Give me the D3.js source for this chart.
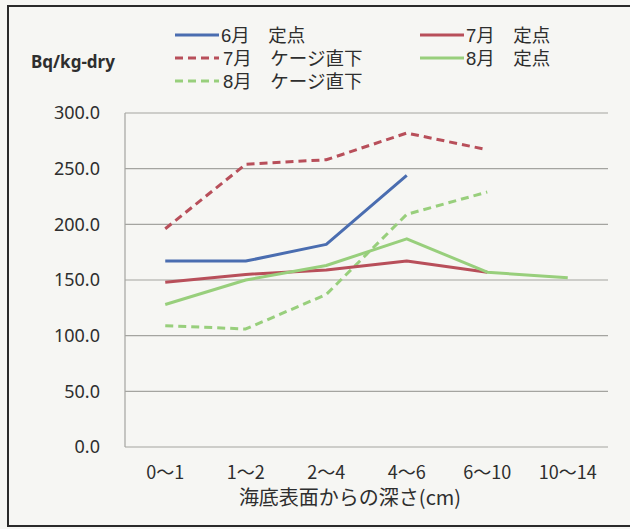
<!DOCTYPE html>
<html>
<head>
<meta charset="utf-8">
<script src="https://cdn.jsdelivr.net/npm/d3@7"></script>
<style>
  html, body { margin: 0; padding: 0; background: #f6f6f3; }
  svg { display: block; }
  text { fill: #2e2e2e; font-family: "Noto Sans CJK JP", "Noto Sans", sans-serif; }
</style>
</head>
<body>
<svg id="chart" width="630" height="529"></svg>
<script>
// Depth intervals below the sea floor (cm)
const categories = ["0～1", "1～2", "2～4", "4～6", "6～10", "10～14"];

// Radioactivity per series, Bq/kg-dry (null = not measured)
const june_fixed   = [167, 167, 182, 244, null, null];
const july_fixed   = [148, 155, 159, 167, 157, null];
const july_cage    = [196, 254, 258, 282, 267, null];
const aug_fixed    = [128, 150, 163, 187, 157, 152];
const aug_cage     = [109, 106, 137, 209, 229, null];

const yTicks = [0, 50, 100, 150, 200, 250, 300];

const series = [
  { name: "6月　定点",      values: june_fixed, color: "#4a6db0", dashed: false },
  { name: "7月　定点",      values: july_fixed, color: "#b84f5a", dashed: false },
  { name: "7月　ケージ直下", values: july_cage,  color: "#b84f5a", dashed: true  },
  { name: "8月　定点",      values: aug_fixed,  color: "#98cf7c", dashed: false },
  { name: "8月　ケージ直下", values: aug_cage,   color: "#98cf7c", dashed: true  }
];

const svg = d3.select("#chart");

// Outer frame
svg.append("rect")
  .attr("x", 8).attr("y", 6).attr("width", 640).attr("height", 520)
  .attr("fill", "none").attr("stroke", "#2a2a2a").attr("stroke-width", 2);

const plot = { left: 125, right: 608, top: 113, bottom: 447 };

const x = d3.scaleBand().domain(categories).range([plot.left, plot.right]);
const y = d3.scaleLinear().domain([0, 300]).range([plot.bottom, plot.top]);

// Horizontal gridlines
svg.append("g")
  .selectAll("line").data(yTicks).join("line")
  .attr("x1", plot.left).attr("x2", plot.right)
  .attr("y1", d => y(d)).attr("y2", d => y(d))
  .attr("stroke", "#a4a4a0").attr("stroke-width", 1.2);

// Left axis line
svg.append("line")
  .attr("x1", plot.left).attr("x2", plot.left)
  .attr("y1", y(300)).attr("y2", y(0))
  .attr("stroke", "#a4a4a0").attr("stroke-width", 1.2);

// Y tick labels
const yAxis = d3.axisLeft(y).tickValues(yTicks).tickFormat(d3.format(".1f")).tickSize(0).tickPadding(25);
const gy = svg.append("g").attr("transform", `translate(${plot.left},0)`).call(yAxis);
gy.select(".domain").remove();
gy.selectAll("text")
  .style("font-family", "'Noto Sans', sans-serif")
  .style("font-size", "18px").attr("fill", "#2e2e2e");

// X tick labels
const xAxis = d3.axisBottom(x).tickSize(0).tickPadding(19);
const gx = svg.append("g").attr("transform", `translate(0,${plot.bottom})`).call(xAxis);
gx.select(".domain").remove();
gx.selectAll("text")
  .style("font-family", "'Noto Sans CJK JP', sans-serif")
  .style("font-size", "18px").attr("fill", "#2e2e2e");

// Axis titles
svg.append("text")
  .attr("x", 350).attr("y", 505).attr("text-anchor", "middle")
  .style("font-size", "20px")
  .text("海底表面からの深さ(cm)");

svg.append("text")
  .attr("x", 31).attr("y", 68)
  .style("font-family", "'Noto Sans', sans-serif")
  .style("font-size", "17px").style("font-weight", "bold")
  .text("Bq/kg-dry");

// Series lines
const line = d3.line()
  .defined(d => d.v !== null)
  .x(d => x(d.c) + x.bandwidth() / 2)
  .y(d => y(d.v));

const drawOrder = [2, 4, 0, 1, 3];
svg.append("g").selectAll("path")
  .data(drawOrder.map(i => series[i])).join("path")
  .attr("d", s => line(s.values.map((v, i) => ({ c: categories[i], v }))))
  .attr("fill", "none")
  .attr("stroke", s => s.color)
  .attr("stroke-width", 3)
  .attr("stroke-linejoin", "round")
  .attr("stroke-dasharray", s => s.dashed ? "8,5" : null);

// Legend (tight rows)
const legendItems = [
  { s: series[0], x: 175, y: 35 },
  { s: series[2], x: 175, y: 58 },
  { s: series[4], x: 175, y: 81 },
  { s: series[1], x: 420, y: 35 },
  { s: series[3], x: 420, y: 58 }
];
const lg = svg.append("g").selectAll("g").data(legendItems).join("g")
  .attr("transform", d => `translate(${d.x},${d.y})`);
lg.append("line")
  .attr("x1", 0).attr("x2", 44).attr("y1", 0).attr("y2", 0)
  .attr("stroke", d => d.s.color).attr("stroke-width", 3)
  .attr("stroke-dasharray", d => d.s.dashed ? "8,5" : null);
lg.append("text")
  .attr("x", d => d.s.dashed ? 48 : 46).attr("y", 0).attr("dy", "0.36em")
  .style("font-family", "'Liberation Sans', 'Noto Sans CJK JP', sans-serif")
  .style("font-size", "18.5px")
  .text(d => d.s.name);
</script>
</body>
</html>
